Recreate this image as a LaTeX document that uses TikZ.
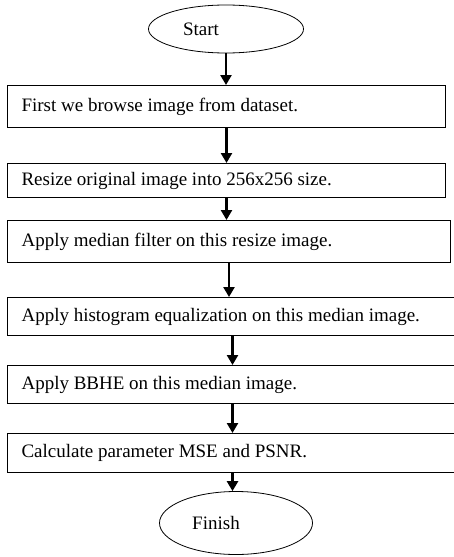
\documentclass[tikz,border=0pt]{standalone}
\usepackage{fontspec}
\setmainfont{Liberation Serif}
\usetikzlibrary{arrows.meta,shapes.geometric}

\tikzset{
  stepbox/.style = {draw, line width = 1pt, anchor = north west, minimum height = #1,
                    inner sep = 0pt, text depth = 0pt},
  endpoint/.style = {draw, ellipse, line width = 0.8pt, inner sep = 0pt},
  arr/.style = {line width = 2.8pt, -{Triangle[length = 10pt, width = 11pt]}},
}

\begin{document}
\begin{tikzpicture}[x = 1pt, y = -1pt, font = \fontsize{19}{22}\selectfont]
                          \useasboundingbox (0,0) rectangle (454,557);
                          \node (start)[endpoint, minimum width = 155pt, minimum height = 48pt] at (226,29) {};
                          \node (starttext) at ([xshift = -25pt]start.center) {Start};
                          \node (b1)[stepbox = 42pt, minimum width = 438pt] at (7,85) {};
                          \node (t1)[anchor = west] at ([xshift = 11pt]b1.west) {First we browse image from dataset.};
                          \node (b2)[stepbox = 34pt, minimum width = 438pt] at (7,163) {};
                          \node (t2)[anchor = west] at ([xshift = 11pt]b2.west) {Resize original image into 256x256 size.};
                          \node (b3)[stepbox = 42pt, minimum width = 443pt] at (7,220) {};
                          \node (t3)[anchor = west] at ([xshift = 11pt]b3.west) {Apply median filter on this resize image.};
                          \node (b4)[stepbox = 38pt, minimum width = 450pt] at (7,297) {};
                          \node (t4)[anchor = west] at ([xshift = 11pt]b4.west) {Apply histogram equalization on this median image.};
                          \node (b5)[stepbox = 38pt, minimum width = 450pt] at (7,365) {};
                          \node (t5)[anchor = west] at ([xshift = 11pt]b5.west) {Apply BBHE on this median image.};
                          \node (b6)[stepbox = 39pt, minimum width = 450pt] at (7,433) {};
                          \node (t6)[anchor = west] at ([xshift = 11pt]b6.west) {Calculate parameter MSE and PSNR.};
                          \node (finish)[endpoint, minimum width = 153pt, minimum height = 63pt] at (236,523) {};
                          \node (finishtext) at ([xshift = -20pt]finish.center) {Finish};
                          \draw [arr] (start.south) -- (start.south |- b1.north);
                          \draw [arr] (b1.south) -- (b1.south |- b2.north);
                          \draw [arr] (b2.south) -- (b2.south |- b3.north);
                          \draw [arr] (b3.south) -- (b3.south |- b4.north);
                          \draw [arr] (b4.south) -- (b4.south |- b5.north);
                          \draw [arr] (b5.south) -- (b5.south |- b6.north);
                          \draw [arr] (b6.south) -- (b6.south |- finish.north);
                        \end{tikzpicture}
\end{document}
